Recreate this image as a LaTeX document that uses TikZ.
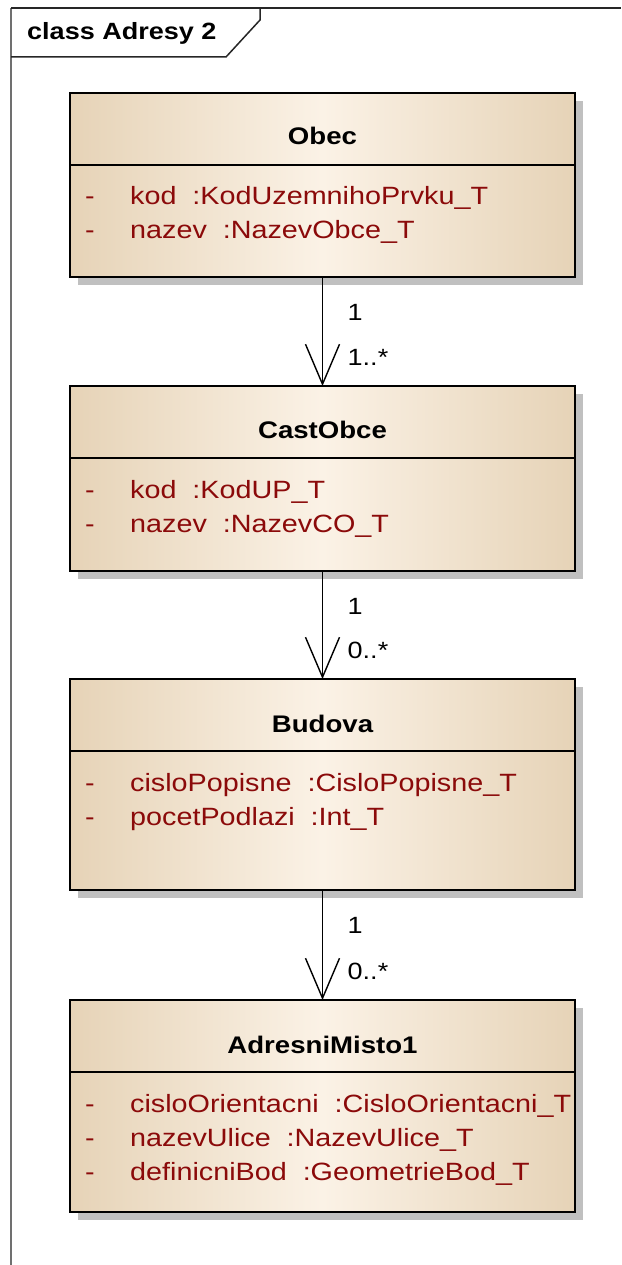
\documentclass[tikz,border=0pt]{standalone}
\usepackage{fontspec}
\setmainfont{Liberation Sans}[FakeStretch=1.15]
\usepackage{xcolor}
\definecolor{ClassTan}{HTML}{E6D3B7}
\definecolor{ClassCream}{HTML}{FBF2E6}
\definecolor{AttrRed}{HTML}{8B0A0A}
\definecolor{ShadowGrey}{HTML}{C0C0C0}
\definecolor{FrameGrey}{HTML}{707070}
\usepackage{tikz}
\usetikzlibrary{arrows.meta,positioning,shadows}

\begin{document}
\begin{tikzpicture}[
  x=1pt, y=-1pt,
  node distance=109pt,
  umlclass/.style={rectangle, draw=black, line width=2.4pt, inner sep=0pt,
                   outer sep=0pt, minimum width=505pt,
                   left color=ClassTan, right color=ClassTan, middle color=ClassCream,
                   drop shadow={shadow xshift=8pt, shadow yshift=-8pt,
                                fill=ShadowGrey, opacity=1}},
  divider/.style={draw=black, line width=2.2pt},
  classname/.style={anchor=base, inner sep=0pt,
                    font=\bfseries\fontsize{24}{28}\selectfont},
  attrs/.style={anchor=base west, inner sep=0pt, text=AttrRed,
                font=\fontsize{25}{34}\selectfont},
  mult/.style={anchor=base west, inner sep=0pt, font=\fontsize{23.5}{28}\selectfont},
  assoc/.style={-{Straight Barb[length=40pt, width=34pt]}, line width=1.4pt},
]
\useasboundingbox (0,0) rectangle (621,1265);

% diagram frame with its name tab
\draw[FrameGrey, line width=1.5pt] (11,1265) -- (11,8);
\draw[black!85, line width=1.5pt] (11,8) -- (621,8);
\draw[black!85, line width=1.5pt] (260,8) -- (260,20) -- (226,57) -- (11,57);
\node[anchor=base west, inner sep=0pt, font=\bfseries\fontsize{23.5}{28}\selectfont]
  (frameT) at (27,40) {class Adresy 2};

% classes
\node[umlclass, minimum height=184pt, anchor=north west] (obec) at (70,93) {};
\node[umlclass, minimum height=185pt, below=of obec] (castobce) {};
\node[umlclass, minimum height=211pt, below=108pt of castobce] (budova) {};
\node[umlclass, minimum height=212pt, below=110pt of budova] (adresni) {};

\foreach \c in {obec,castobce,budova,adresni}
  \draw[divider] ([yshift=-72pt]\c.north west) -- ([yshift=-72pt]\c.north east);

\node[classname] (obecT) at ([yshift=-52pt]obec.north) {Obec};
\node[attrs] (obecA) at ([xshift=15pt, yshift=-112pt]obec.north west)
  {\begin{tabular}[t]{@{}p{45pt}@{}l@{}}
   - & kod~~:KodUzemnihoPrvku\_T\\
   - & nazev~~:NazevObce\_T
   \end{tabular}};

\node[classname] (castobceT) at ([yshift=-52pt]castobce.north) {CastObce};
\node[attrs] (castobceA) at ([xshift=15pt, yshift=-112pt]castobce.north west)
  {\begin{tabular}[t]{@{}p{45pt}@{}l@{}}
   - & kod~~:KodUP\_T\\
   - & nazev~~:NazevCO\_T
   \end{tabular}};

\node[classname] (budovaT) at ([yshift=-53pt]budova.north) {Budova};
\node[attrs] (budovaA) at ([xshift=15pt, yshift=-112pt]budova.north west)
  {\begin{tabular}[t]{@{}p{45pt}@{}l@{}}
   - & cisloPopisne~~:CisloPopisne\_T\\
   - & pocetPodlazi~~:Int\_T
   \end{tabular}};

\node[classname] (adresniT) at ([yshift=-53pt]adresni.north) {AdresniMisto1};
\node[attrs] (adresniA) at ([xshift=15pt, yshift=-112pt]adresni.north west)
  {\begin{tabular}[t]{@{}p{45pt}@{}l@{}}
   - & cisloOrientacni~~:CisloOrientacni\_T\\
   - & nazevUlice~~:NazevUlice\_T\\
   - & definicniBod~~:GeometrieBod\_T
   \end{tabular}};

% associations
\draw[assoc] (obec) -- (castobce);
\draw[assoc] (castobce) -- (budova);
\draw[assoc] (budova) -- (adresni);

\node[mult] (m1s) at ([xshift=25pt, yshift=-43pt]obec.south) {1};
\node[mult] (m1t) at ([xshift=25pt, yshift=21pt]castobce.north) {1..*};
\node[mult] (m2s) at ([xshift=25pt, yshift=-43pt]castobce.south) {1};
\node[mult] (m2t) at ([xshift=25pt, yshift=21pt]budova.north) {0..*};
\node[mult] (m3s) at ([xshift=25pt, yshift=-43pt]budova.south) {1};
\node[mult] (m3t) at ([xshift=25pt, yshift=21pt]adresni.north) {0..*};
\end{tikzpicture}
\end{document}
